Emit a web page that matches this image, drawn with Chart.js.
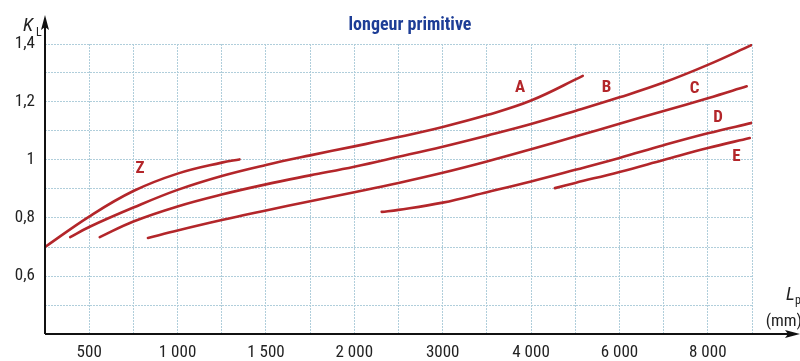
<!DOCTYPE html>
<html><head><meta charset="utf-8">
<script src="https://cdn.jsdelivr.net/npm/chart.js@4.4.0/dist/chart.umd.min.js"></script>
<style>html,body{margin:0;padding:0;background:#fff;}#wrap{width:800px;height:361px;position:relative}</style>
</head><body><div id="wrap"><canvas id="c" width="800" height="361"></canvas></div>
<script>
// ---- data (x in axis grid units: 500 at 1, 1 000 at 3, ... 8 000 at 15) ----
const chartTitle = 'longeur primitive';
const xTickPos = [1, 3, 5, 7, 9, 11, 13, 15];
const xTickLabels = ['500', '1 000', '1 500', '2 000', '3000', '4 000', '6 000', '8 000'];
const yTickVals = [0.6, 0.8, 1.0, 1.2, 1.4];
const yTickLabels = ['0,6', '0,8', '1', '1,2', '1,4'];

const zX = [0, 1, 2, 3, 4, 4.4];
const zK = [0.700, 0.805, 0.893, 0.953, 0.991, 1.002];
const aX = [0.57, 1, 2, 3, 4, 5, 6, 7, 8, 9, 10, 11, 12.17];
const aK = [0.734, 0.769, 0.836, 0.897, 0.945, 0.983, 1.016, 1.047, 1.079, 1.114, 1.155, 1.205, 1.290];
const bX = [1.24, 2, 3, 4, 5, 6, 7, 8, 9, 10, 11, 12, 13, 14, 15, 16];
const bK = [0.734, 0.788, 0.840, 0.881, 0.916, 0.947, 0.977, 1.011, 1.046, 1.084, 1.124, 1.169, 1.216, 1.267, 1.328, 1.397];
const cX = [2.33, 3, 4, 5, 6, 7, 8, 9, 10, 11, 12, 13, 14, 15, 15.88];
const cK = [0.731, 0.757, 0.793, 0.826, 0.858, 0.889, 0.921, 0.956, 0.995, 1.037, 1.081, 1.125, 1.169, 1.213, 1.254];
const dX = [7.62, 8, 9, 10, 11, 12, 13, 14, 15, 16];
const dK = [0.821, 0.828, 0.853, 0.889, 0.926, 0.966, 1.007, 1.051, 1.092, 1.128];
const eX = [11.54, 12, 13, 14, 15, 15.95];
const eK = [0.903, 0.921, 0.959, 1.000, 1.041, 1.076];

const curveNames = ['Z', 'A', 'B', 'C', 'D', 'E'];
const nameX = [2.15, 10.75, 12.71, 14.7, 15.23, 15.65];
const nameK = [0.97, 1.248, 1.248, 1.245, 1.145, 1.01];

// ---- styling ----
const RED = '#b3262a';
const GRID = '#b0cedb';
const NARROW = '"Liberation Sans Narrow", "Arial Narrow", "Roboto Condensed", sans-serif';

function pts(xs, ks) { return xs.map((x, i) => ({ x: x, y: ks[i] })); }
const series = [[zX, zK], [aX, aK], [bX, bK], [cX, cK], [dX, dK], [eX, eK]];

const overlay = {
  id: 'overlay',
  afterDraw(chart) {
    const ctx = chart.ctx;
    const xs = chart.scales.x, ys = chart.scales.y;
    const ca = chart.chartArea;
    ctx.save();
    // axes
    ctx.strokeStyle = '#111'; ctx.fillStyle = '#111'; ctx.lineWidth = 2;
    ctx.beginPath();
    ctx.moveTo(ca.left, ca.bottom); ctx.lineTo(ca.left, 24);
    ctx.moveTo(ca.left, ca.bottom); ctx.lineTo(790, ca.bottom);
    ctx.stroke();
    ctx.beginPath();
    ctx.moveTo(ca.left, 15); ctx.lineTo(ca.left - 4, 30); ctx.lineTo(ca.left, 27); ctx.lineTo(ca.left + 4, 30); ctx.closePath();
    ctx.fill();
    ctx.beginPath();
    ctx.moveTo(800, ca.bottom); ctx.lineTo(785, ca.bottom - 4); ctx.lineTo(788, ca.bottom); ctx.lineTo(785, ca.bottom + 4); ctx.closePath();
    ctx.fill();
    // axis titles
    ctx.fillStyle = '#222';
    ctx.textBaseline = 'alphabetic';
    ctx.textAlign = 'left';
    ctx.font = 'italic 19px ' + NARROW;
    ctx.fillText('K', 23, 31);
    ctx.font = '12px ' + NARROW;
    ctx.fillText('L', 36, 36);
    ctx.font = 'italic 19px ' + NARROW;
    ctx.fillText('L', 786, 300);
    ctx.font = '12px ' + NARROW;
    ctx.fillText('p', 795, 304);
    ctx.font = '17px ' + NARROW;
    ctx.textAlign = 'right';
    ctx.fillText('(mm)', 802, 326);
    // title
    ctx.fillStyle = '#1d3d96';
    ctx.font = 'bold 18px ' + NARROW;
    ctx.textAlign = 'center';
    ctx.textBaseline = 'middle';
    ctx.fillText(chartTitle, 410, 25);
    // curve names
    ctx.fillStyle = RED;
    ctx.font = 'bold 17px ' + NARROW;
    curveNames.forEach((n, i) => {
      ctx.fillText(n, xs.getPixelForValue(nameX[i]), ys.getPixelForValue(nameK[i]));
    });
    ctx.restore();
  }
};

new Chart(document.getElementById('c'), {
  type: 'scatter',
  data: {
    datasets: series.map((s, i) => ({
      label: curveNames[i],
      data: pts(s[0], s[1]),
      showLine: true,
      borderColor: RED,
      backgroundColor: RED,
      borderWidth: 2.6,
      pointRadius: 0,
      tension: 0.4,
      borderCapStyle: 'round'
    }))
  },
  options: {
    responsive: false,
    animation: false,
    devicePixelRatio: 1,
    layout: { padding: { left: 0, right: 48, top: 44, bottom: 0 } },
    plugins: { legend: { display: false }, tooltip: { enabled: false }, title: { display: false } },
    scales: {
      x: {
        type: 'linear', min: 0, max: 16,
        afterFit(s) { s.height = 27; },
        afterBuildTicks(s) { s.ticks = Array.from({ length: 17 }, (_, i) => ({ value: i })); },
        grid: { color: GRID, lineWidth: 1, drawTicks: false },
        border: { display: false, dash: [2, 1] },
        ticks: {
          autoSkip: false, maxRotation: 0, padding: 9, color: '#222',
          font: { size: 17, family: NARROW },
          callback(v) { const k = xTickPos.indexOf(v); return k >= 0 ? xTickLabels[k] : ''; }
        }
      },
      y: {
        type: 'linear', min: 0.4, max: 1.4,
        afterFit(s) { s.width = 45; },
        afterBuildTicks(s) { s.ticks = Array.from({ length: 11 }, (_, i) => ({ value: Math.round((0.4 + i * 0.1) * 10) / 10 })); },
        grid: { color: GRID, lineWidth: 1, drawTicks: false },
        border: { display: false, dash: [2, 1] },
        ticks: {
          autoSkip: false, padding: 10, color: '#222',
          font: { size: 17, family: NARROW },
          callback(v) { const k = yTickVals.findIndex(t => Math.abs(t - v) < 1e-6); return k >= 0 ? yTickLabels[k] : ''; }
        }
      }
    }
  },
  plugins: [overlay]
});
</script>
</body></html>
